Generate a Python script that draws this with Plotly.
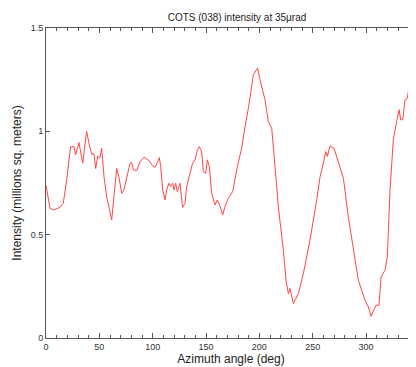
import plotly.graph_objects as go

azimuth_deg = [0, 3.75, 6.9, 13, 16.2, 19.4, 23.1, 26.2, 27.8, 30.9, 34.4, 38.1, 40.6, 42.8, 45,
               46.6, 48.4, 50.5, 52.2, 54.4, 56.9, 61.6, 63.7, 66.3, 68.4, 71, 73.1, 75.6, 78.75,
               80.3, 81.9, 85, 88.1, 91.9, 95.9, 100, 102.2, 104.4, 106.3, 107.5, 109.4, 111.6,
               113.1, 115.3, 116.9, 118.8, 120, 121.6, 123.1, 125.6, 128.1, 130.3, 131.9, 135,
               137.5, 139.7, 141.9, 143.75, 146, 147.5, 149.7, 151.2, 153.1, 155.3, 158.4, 160.6,
               163.1, 165.6, 167.8, 170.9, 175, 179.4, 183.4, 186.6, 190, 194.4, 198.4, 200.6,
               205.3, 208.4, 211.6, 214.7, 217.8, 222.5, 225, 227.2, 228.75, 231.9, 236.6, 241.3,
               247.5, 253.8, 256.9, 260, 262.2, 263.75, 266.25, 270, 274.1, 278.8, 283.4, 288.1,
               292.8, 299, 302.2, 304.7, 306.9, 309.4, 312.2, 314.1, 317.8, 320, 322.5, 325.6,
               328.75, 331, 332.5, 334.4, 336.6, 338.75, 340.6, 342.8, 344.4, 345.9, 350, 355, 360]
intensity = [0.74, 0.627, 0.619, 0.632, 0.652, 0.765, 0.926, 0.926, 0.886, 0.946, 0.846, 1.0, 0.935,
             0.89, 0.89, 0.82, 0.88, 0.87, 0.918, 0.78, 0.684, 0.571, 0.684, 0.82, 0.776, 0.70,
             0.716, 0.78, 0.846, 0.85, 0.813, 0.81, 0.853, 0.875, 0.862, 0.833, 0.826, 0.85, 0.873,
             0.83, 0.716, 0.668, 0.716, 0.749, 0.733, 0.749, 0.716, 0.749, 0.708, 0.749, 0.632,
             0.652, 0.733, 0.797, 0.846, 0.862, 0.91, 0.926, 0.90, 0.805, 0.797, 0.862, 0.83,
             0.70, 0.644, 0.668, 0.64, 0.595, 0.636, 0.676, 0.708, 0.83, 0.918, 1.023, 1.12,
             1.274, 1.306, 1.25, 1.153, 1.048, 1.015, 0.83, 0.635, 0.425, 0.28, 0.215, 0.24,
             0.167, 0.215, 0.312, 0.474, 0.668, 0.78, 0.846, 0.902, 0.878, 0.93, 0.918, 0.846,
             0.773, 0.587, 0.425, 0.28, 0.183, 0.15, 0.105, 0.134, 0.159, 0.159, 0.296, 0.328,
             0.393, 0.716, 0.959, 1.048, 1.105, 1.056, 1.056, 1.153, 1.16, 1.225, 1.217, 1.253,
             1.12, 1.0, 0.85, 0.74]

x_ticks = [0, 50, 100, 150, 200, 250, 300, 350]
y_ticks = [0, 0.5, 1, 1.5]
y_tick_labels = ["0", "0.5", "1", "1.5"]

title_text = "COTS (038) intensity at 35μrad"
x_title = "Azimuth angle (deg)"
y_title = "Intensity (millions sq. meters)"

# page body has an 8px margin, so the figure is drawn 8px in from the top-left
OFF = 8
W, H = 416 - OFF, 367 - OFF
ml, mt, mb = 46 - OFF, 28 - OFF, 29
px_per_deg = 1.0667
x_max = (W - ml) / px_per_deg

fig = go.Figure()
fig.add_trace(go.Scatter(x=azimuth_deg, y=intensity, mode="lines",
                         line=dict(color="rgb(255,70,70)", width=1), showlegend=False))

font_family = "Liberation Sans, Arial, sans-serif"
axis_col = "#555555"

fig.update_layout(
    width=W, height=H,
    margin=dict(l=ml, r=0, t=mt, b=mb),
    paper_bgcolor="white", plot_bgcolor="white",
    font=dict(family=font_family, color="#222222", size=9),
    title=dict(text=title_text, x=(237 - 46) / (416 - 46), xref="paper", xanchor="center",
               y=1 - (17 - OFF) / H, yref="container", yanchor="middle",
               font=dict(size=10, color="#222222", family=font_family)),
)
fig.update_xaxes(
    range=[0, x_max], tickvals=x_ticks, ticks="inside", ticklen=5, tickcolor=axis_col,
    showline=True, linecolor=axis_col, linewidth=1, mirror="ticks", showgrid=False, zeroline=False,
    minor=dict(dtick=10, tick0=0, ticks="inside", ticklen=3, tickcolor=axis_col, showgrid=False),
    tickfont=dict(size=9, color="#333333"),
    title=dict(text=x_title, font=dict(size=12, color="#222222"), standoff=2),
    automargin=False,
)
fig.update_yaxes(
    range=[0, 1.5], tickvals=y_ticks, ticktext=y_tick_labels, ticks="inside", ticklen=4,
    tickcolor=axis_col, showline=True, linecolor=axis_col, linewidth=1, mirror=False,
    showgrid=False, zeroline=False, tickfont=dict(size=9, color="#333333"),
    title=dict(text=y_title, font=dict(size=12, color="#222222"), standoff=6),
    automargin=False,
)

fig.write_html("out.html")
